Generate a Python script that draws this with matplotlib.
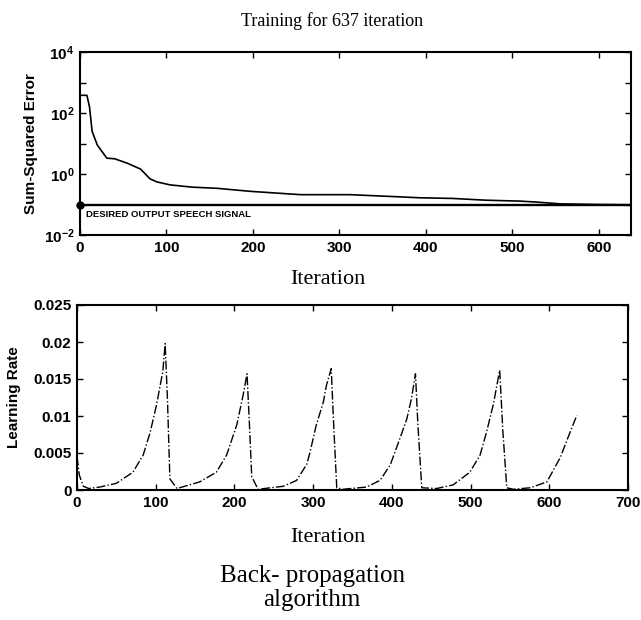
import matplotlib
matplotlib.use("Agg")
import matplotlib.pyplot as plt
from matplotlib.ticker import FixedLocator, NullFormatter, LogFormatterMathtext

plt.rcParams["font.family"] = ["Liberation Sans", "DejaVu Sans"]
plt.rcParams["font.weight"] = "bold"
plt.rcParams["mathtext.default"] = "regular"
SERIF = ["Liberation Serif", "DejaVu Serif"]

TITLE = "Training for 637 iteration"
CAPTION = "Back- propagation\nalgorithm"
GOAL_TEXT = "DESIRED OUTPUT SPEECH SIGNAL"

# sum-squared error
sse_iter = [0, 8, 11, 14, 20, 31, 40, 55, 70, 81, 89, 104, 130, 158, 197,
            255, 312, 370, 393, 431, 470, 509, 528, 555, 600, 637]
sse_value = [380, 380, 158, 25, 8.9, 3.3, 3.16, 2.24, 1.45, 0.69, 0.55, 0.44,
             0.37, 0.34, 0.27, 0.21, 0.21, 0.178, 0.166, 0.158, 0.138, 0.129,
             0.12, 0.105, 0.1, 0.098]
goal = 0.1

# learning rate
lr_iter = [0, 3, 8, 15, 29, 50, 71, 84, 93, 101, 109, 112, 115, 118, 127,
           156, 177, 190, 203, 211, 216, 219, 222, 230, 262, 279, 292, 296,
           304, 313, 317, 323, 326, 330, 338, 368, 385, 398, 410, 419, 425,
           430, 433, 438, 457, 478, 499, 512, 520, 529, 537, 541, 546, 554,
           576, 597, 614, 626, 635]
lr_value = [0.0045, 0.002, 0.0005, 0.0002, 0.0004, 0.0009, 0.0024, 0.0047,
            0.0078, 0.0115, 0.016, 0.0198, 0.012, 0.0015, 0.0002,
            0.0011, 0.0024, 0.0047, 0.0088, 0.0128, 0.0157, 0.009, 0.0018,
            0.0001, 0.0005, 0.0013, 0.0035, 0.0051,
            0.0088, 0.0119, 0.0142, 0.0164, 0.009, 0.0003, 0.0001, 0.0004,
            0.0013, 0.0034, 0.0069, 0.0096, 0.0124,
            0.0157, 0.009, 0.0003, 0.0002, 0.0007, 0.0024, 0.0047, 0.0077,
            0.0116, 0.0162, 0.008, 0.0003, 0.0001,
            0.0003, 0.0011, 0.0044, 0.0077, 0.0101]
lr_ticks = [0, 0.005, 0.01, 0.015, 0.02, 0.025]
lr_ticklabels = ["0", "0.005", "0.01", "0.015", "0.02", "0.025"]


def style_axes(ax):
    for s in ax.spines.values():
        s.set_linewidth(1.5)
    ax.tick_params(which="both", direction="in", top=True, right=True,
                   width=1, labelsize=11, pad=4, length=4)


fig = plt.figure(figsize=(6.41, 6.2), dpi=100)

####### Upper panel: error
ax1 = fig.add_axes([80 / 641, 1 - 235 / 620, 551 / 641, 183 / 620])
ax1.semilogy(sse_iter, sse_value, color="black", lw=1.2)
ax1.axhline(goal, color="black", lw=1.7)
ax1.plot([0], [goal], "o", color="black", ms=5, clip_on=False, zorder=5)
ax1.annotate(GOAL_TEXT, xy=(0, goal), xytext=(4, -7.5),
             textcoords="offset points", va="center", ha="left",
             fontsize=6.8, fontweight="bold")
ax1.set_xlim(0, 637)
ax1.set_ylim(1e-2, 1e4)
ax1.set_xticks(range(0, 700, 100))
ax1.yaxis.set_major_locator(FixedLocator([1e-2, 1, 1e2, 1e4]))
ax1.yaxis.set_major_formatter(LogFormatterMathtext())
ax1.yaxis.set_minor_locator(FixedLocator([1e-1, 1e1, 1e3]))
ax1.yaxis.set_minor_formatter(NullFormatter())
style_axes(ax1)
ax1.set_ylabel("Sum-Squared Error", fontsize=11, fontweight="bold")
ax1.yaxis.set_label_coords((31 - 80) / 551, 0.5)
ax1.yaxis.label.set_va("center")
ax1.set_xlabel("Iteration", family=SERIF, fontsize=16, fontweight="normal")
ax1.xaxis.set_label_coords((328 - 80) / 551, (235 - 280) / 183)
ax1.xaxis.label.set_va("center")

####### Lower panel: learning rate
ax2 = fig.add_axes([77 / 641, 1 - 490 / 620, 551 / 641, 185 / 620])
ax2.plot(lr_iter, lr_value, color="black", lw=1.0, ls="-.")
ax2.set_xlim(0, 700)
ax2.set_ylim(0, 0.025)
ax2.set_xticks(range(0, 800, 100))
ax2.set_yticks(lr_ticks)
ax2.set_yticklabels(lr_ticklabels)
style_axes(ax2)
ax2.set_ylabel("Learning Rate", fontsize=11, fontweight="bold")
ax2.yaxis.set_label_coords((14.5 - 77) / 551, 0.5)
ax2.yaxis.label.set_va("center")
ax2.set_xlabel("Iteration", family=SERIF, fontsize=16, fontweight="normal")
ax2.xaxis.set_label_coords((328 - 77) / 551, (490 - 537) / 185)
ax2.xaxis.label.set_va("center")

fig.text(332 / 641, 1 - 21 / 620, TITLE, family=SERIF, fontsize=13,
         fontweight="normal", ha="center", va="center")
fig.text(312 / 641, 1 - 588 / 620, CAPTION, family=SERIF, fontsize=18,
         fontweight="normal", ha="center", va="center", linespacing=1.1)

fig.savefig("out.png", dpi=100)
